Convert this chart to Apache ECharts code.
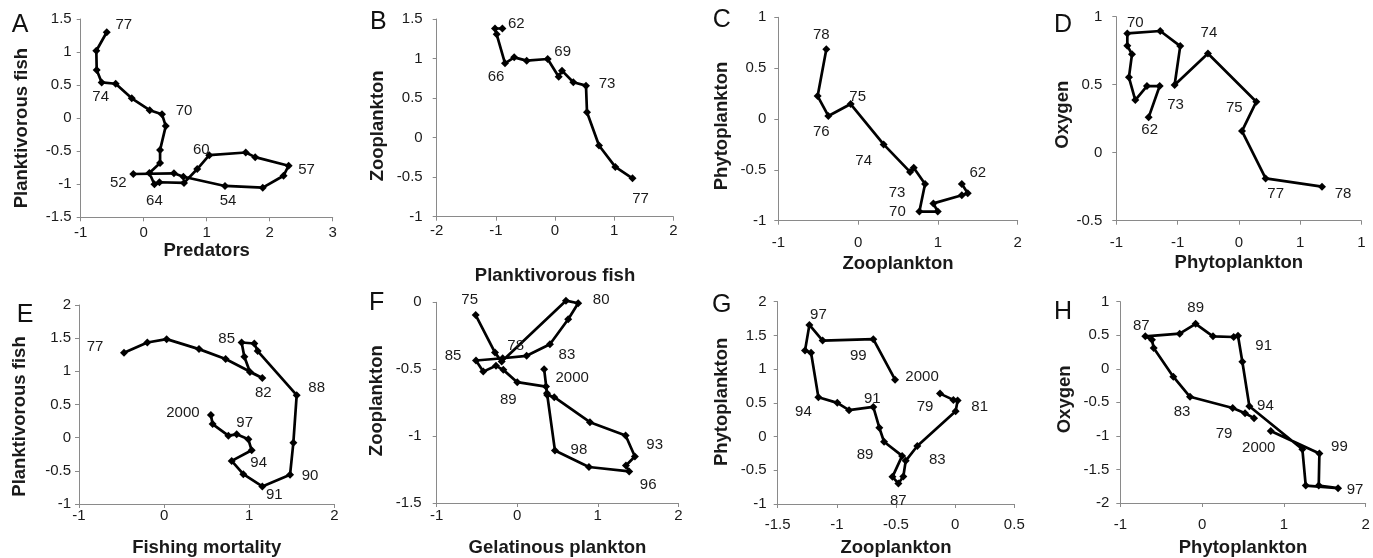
<!DOCTYPE html>
<html><head><meta charset="utf-8">
<script src="https://cdn.jsdelivr.net/npm/echarts@6/dist/echarts.min.js"></script>
<style>html,body{margin:0;padding:0;background:#fff}#c{width:1373px;height:558px}</style>
</head><body><div id="c"></div>
<script>
// ---------- DATA ----------
// Panel A: Predators (x) vs Planktivorous fish (y), 1952-1977
const xA = [-0.165,0.48,0.63,1.29,1.89,2.22,2.30,1.77,1.62,1.04,0.85,0.64,0.25,0.17,0.09,0.26,0.26,0.35,0.29,0.095,-0.19,-0.445,-0.667,-0.746,-0.752,-0.587];
const yA = [-0.845,-0.834,-0.886,-1.026,-1.052,-0.871,-0.72,-0.59,-0.52,-0.56,-0.77,-0.98,-0.97,-1.0,-0.83,-0.68,-0.48,-0.12,0.06,0.12,0.30,0.52,0.54,0.73,1.02,1.30];
const yrA = ['52','','','54','','','57','','','60','','','','64','','','','','70','','','','74','','','77'];
const xTicksA = [-1,0,1,2,3];
const yTicksA = [-1.5,-1,-0.5,0,0.5,1,1.5];

// Panel B: Planktivorous fish (x) vs Zooplankton (y)
const xB = [-0.89,-1.014,-0.986,-0.845,-0.69,-0.479,-0.124,0.062,0.118,0.31,0.524,0.541,0.744,1.02,1.31];
const yB = [1.38,1.38,1.306,0.94,1.015,0.973,0.994,0.77,0.847,0.70,0.657,0.32,-0.10,-0.37,-0.515];
const yrB = ['62','','','66','','','69','','','','73','','','','77'];
const xTicksB = [-2,-1,0,1,2];
const yTicksB = [-1,-0.5,0,0.5,1,1.5];

// Panel C: Zooplankton (x) vs Phytoplankton (y)
const xC = [1.30,1.374,1.30,0.943,0.998,0.768,0.839,0.697,0.651,0.32,-0.093,-0.373,-0.507,-0.398];
const yC = [-0.64,-0.73,-0.75,-0.83,-0.91,-0.91,-0.64,-0.48,-0.52,-0.25,0.147,0.03,0.226,0.685];
const yrC = ['62','','','','','70','','','73','74','75','76','','78'];
const xTicksC = [-1,0,1,2];
const yTicksC = [-1,-0.5,0,0.5,1];

// Panel D: Phytoplankton (x) vs Oxygen (y)
const xD = [-0.736,-0.646,-0.75,-0.845,-0.897,-0.872,-0.91,-0.91,-0.641,-0.478,-0.524,-0.252,0.143,0.026,0.219,0.679];
const yD = [0.26,0.49,0.49,0.387,0.554,0.723,0.787,0.877,0.895,0.784,0.498,0.73,0.375,0.159,-0.189,-0.25];
const yrD = ['62','','','','','','','70','','','73','74','75','','77','78'];
const xTicksD = [-1,-0.5,0,0.5,1];
const xTickTextD = ['-1','-1','0','1','1'];
const yTicksD = [-0.5,0,0.5,1];

// Panel E: Fishing mortality (x) vs Planktivorous fish (y), 1977-2000
const xE = [-0.471,-0.197,0.03,0.41,0.723,1.154,1.009,0.943,0.911,1.06,1.10,1.558,1.519,1.48,1.154,0.931,0.794,1.029,0.99,0.853,0.755,0.57,0.55];
const yE = [1.28,1.435,1.485,1.335,1.185,0.90,0.99,1.22,1.435,1.42,1.305,0.64,-0.075,-0.56,-0.735,-0.55,-0.35,-0.19,-0.025,0.05,0.03,0.205,0.34];
const yrE = ['77','','','','','82','','','85','','','88','','90','91','','','94','','97','','','2000'];
const xTicksE = [-1,0,1,2];
const yTicksE = [-1,-0.5,0,0.5,1,1.5,2];

// Panel F: Gelatinous plankton (x) vs Zooplankton (y)
const xF = [-0.516,-0.276,-0.193,0.605,0.757,0.633,0.406,0.117,-0.181,-0.512,-0.422,-0.264,-0.173,0.0,0.357,0.373,0.46,0.903,1.346,1.461,1.35,1.39,0.89,0.468,0.37,0.334];
const yF = [-0.095,-0.376,-0.443,0.012,-0.007,-0.127,-0.313,-0.40,-0.418,-0.435,-0.518,-0.475,-0.505,-0.597,-0.63,-0.692,-0.709,-0.896,-0.996,-1.152,-1.22,-1.264,-1.231,-1.107,-0.68,-0.50];
const yrF = ['75','','','','80','','83','','78','85','','','','89','','','','','93','','','96','','98','','2000'];
const xTicksF = [-1,0,1,2];
const yTicksF = [-1.5,-1,-0.5,0];

// Panel G: Zooplankton (x) vs Phytoplankton (y)
const xG = [-0.128,-0.015,0.021,0.004,-0.32,-0.418,-0.438,-0.48,-0.53,-0.448,-0.601,-0.641,-0.692,-0.897,-0.996,-1.156,-1.218,-1.269,-1.232,-1.12,-0.692,-0.508];
const yG = [0.637,0.544,0.534,0.377,-0.14,-0.36,-0.592,-0.695,-0.597,-0.287,-0.076,0.131,0.44,0.392,0.50,0.583,1.242,1.277,1.656,1.424,1.444,0.844];
const yrG = ['79','','81','','83','','','87','','','89','','91','','','94','','','97','','99','2000'];
const xTicksG = [-1.5,-1,-0.5,0,0.5];
const yTicksG = [-1,-0.5,0,0.5,1,1.5,2];

// Panel H: Phytoplankton (x) vs Oxygen (y)
const xH = [0.635,0.525,0.374,-0.148,-0.352,-0.592,-0.613,-0.694,-0.274,-0.079,0.133,0.386,0.439,0.492,0.578,1.226,1.267,1.662,1.426,1.434,0.839];
const yH = [-0.736,-0.663,-0.584,-0.417,-0.117,0.311,0.434,0.484,0.523,0.67,0.484,0.474,0.493,0.105,-0.559,-1.199,-1.74,-1.779,-1.74,-1.263,-0.928];
const yrH = ['79','','','83','','','','87','','89','','91','','','94','','','97','','99','2000'];
const xTicksH = [-1,0,1,2];
const yTicksH = [-2,-1.5,-1,-0.5,0,0.5,1];

const PANELS = [
  {id:'A', x:xA, y:yA, yr:yrA, xt:xTicksA, yt:yTicksA, xName:'Predators', yName:'Planktivorous fish'},
  {id:'B', x:xB, y:yB, yr:yrB, xt:xTicksB, yt:yTicksB, xName:'Planktivorous fish', yName:'Zooplankton'},
  {id:'C', x:xC, y:yC, yr:yrC, xt:xTicksC, yt:yTicksC, xName:'Zooplankton', yName:'Phytoplankton'},
  {id:'D', x:xD, y:yD, yr:yrD, xt:xTicksD, yt:yTicksD, xName:'Phytoplankton', yName:'Oxygen', xText:xTickTextD},
  {id:'E', x:xE, y:yE, yr:yrE, xt:xTicksE, yt:yTicksE, xName:'Fishing mortality', yName:'Planktivorous fish'},
  {id:'F', x:xF, y:yF, yr:yrF, xt:xTicksF, yt:yTicksF, xName:'Gelatinous plankton', yName:'Zooplankton'},
  {id:'G', x:xG, y:yG, yr:yrG, xt:xTicksG, yt:yTicksG, xName:'Zooplankton', yName:'Phytoplankton'},
  {id:'H', x:xH, y:yH, yr:yrH, xt:xTicksH, yt:yTicksH, xName:'Phytoplankton', yName:'Oxygen'}
];

// ---------- LAYOUT (pixels) ----------
// g: grid box, xm/ym: tick-label margins, xg/yg: axis-title gaps, ys: y-title downward shift, L: panel letter centre
const LAYOUT = {
  A:{g:[80.7,19,252,198.3], xm:8, ym:9, xg:22, yg:49, ys:10, L:[20,25],
     off:{'52':[-15,9],'54':[3,15],'57':[18,4],'60':[-8,-5],'64':[0,17],'70':[22,-3],'74':[-1,14],'77':[17,-7]}},
  B:{g:[436.7,19,236.6,197.7], xm:7, ym:14, xg:50, yg:49, ys:8, L:[378.3,21.7],
     off:{'62':[14,-5],'66':[-9,14],'69':[15,-7],'73':[21,-2],'77':[8,21]}},
  C:{g:[778.3,17.3,239.4,203.4], xm:15, ym:12, xg:34, yg:47, ys:7, L:[721.7,20],
     off:{'62':[16,-11],'70':[-22,0],'73':[-13,21],'74':[-20,16],'75':[7,-7],'76':[-7,16],'78':[-5,-14]}},
  D:{g:[1116.3,16.7,245,204], xm:15, ym:14, xg:33, yg:42, ys:-4, L:[1063,25],
     off:{'62':[1,13],'70':[8,-11],'73':[1,20],'74':[1,-21],'75':[-22,6],'77':[10,15],'78':[21,7]}},
  E:{g:[79,305,255.3,200], xm:4, ym:8, xg:34, yg:50, ys:12, L:[25,315],
     off:{'77':[-29,-6],'82':[1,15],'85':[-15,-4],'88':[20,-7],'90':[20,1],'91':[12,8],'94':[7,13],'97':[8,-11],'2000':[-28,-2]}},
  F:{g:[436.7,302.3,241.6,201], xm:5, ym:15, xg:35, yg:50.5, ys:-2, L:[376.7,303.3],
     off:{'75':[-6,-15],'80':[23,-3],'83':[17,11],'78':[13,-12],'85':[-23,-5],'89':[-9,18],'93':[29,9],'96':[19,13],'98':[24,-1],'2000':[28,9]}},
  G:{g:[777.7,301.7,236.6,203.3], xm:13, ym:11, xg:34, yg:46.5, ys:-1, L:[721.7,305],
     off:{'79':[-15,13],'81':[22,6],'83':[20,14],'87':[0,17],'89':[-19,13],'91':[-1,-8],'94':[-15,15],'97':[9,-10],'99':[-15,17],'2000':[27,-3]}},
  H:{g:[1120.3,301.7,245.4,203.3], xm:14, ym:11, xg:35, yg:46, ys:-3, L:[1063,311.7],
     off:{'79':[-30,16],'83':[-8,15],'87':[-4,-10],'89':[0,-16],'91':[30,9],'94':[16,0],'97':[17,2],'99':[20,-7],'2000':[-12,17]}}
};

const FONT = '"Liberation Sans", Arial, Helvetica, sans-serif';
const AXIS_COLOR = '#8a8a8a';
const TEXT_COLOR = '#1a1a1a';
const SYM = 8;

const grid = [], xAxis = [], yAxis = [], series = [], graphic = [];
PANELS.forEach((p, i) => {
  const L = LAYOUT[p.id];
  grid.push({left:L.g[0], top:L.g[1], width:L.g[2], height:L.g[3], containLabel:false});
  const common = {
    gridIndex:i, type:'value',
    axisLine:{show:true, onZero:false, lineStyle:{color:AXIS_COLOR, width:1}},
    axisTick:{show:true, inside:false, length:4, lineStyle:{color:AXIS_COLOR, width:1}},
    splitLine:{show:false},
    nameLocation:'middle'
  };
  const nameStyle = {fontFamily:FONT, fontWeight:'bold', fontSize:18.5, color:TEXT_COLOR};
  const xl = {margin:L.xm, fontSize:15, color:TEXT_COLOR, fontFamily:FONT};
  if (p.xText) {
    xl.formatter = v => { const k = p.xt.findIndex(t => Math.abs(t - v) < 1e-9); return k >= 0 ? p.xText[k] : ''; };
  }
  xAxis.push(Object.assign({}, common, {
    min:p.xt[0], max:p.xt[p.xt.length-1], interval:p.xt[1]-p.xt[0],
    name:p.xName, nameGap:L.xg, axisLabel:xl, nameTextStyle:nameStyle
  }));
  const s = L.ys || 0;
  yAxis.push(Object.assign({}, common, {
    min:p.yt[0], max:p.yt[p.yt.length-1], interval:p.yt[1]-p.yt[0],
    name:p.yName, nameGap:L.yg,
    nameTextStyle:Object.assign({}, nameStyle, {padding: s >= 0 ? [0, 2*s, 0, 0] : [0, 0, 0, -2*s]}),
    axisLabel:{margin:L.ym, fontSize:15, color:TEXT_COLOR, fontFamily:FONT}
  }));
  series.push({
    type:'line', xAxisIndex:i, yAxisIndex:i,
    symbol:'diamond', symbolSize:SYM, showSymbol:true, showAllSymbol:true,
    lineStyle:{color:'#000', width:2.7},
    itemStyle:{color:'#000'},
    label:{show:false, fontFamily:FONT, fontSize:15, color:TEXT_COLOR},
    animation:false, clip:false,
    data:p.x.map((xv, j) => {
      const item = {value:[xv, p.y[j]]};
      const yr = p.yr[j];
      if (yr) {
        const o = L.off[yr] || [0,-14];
        item.label = {show:true, formatter:yr, position:[SYM/2 + o[0], SYM/2 + o[1]],
                      align:'center', verticalAlign:'middle',
                      fontFamily:FONT, fontSize:15, color:TEXT_COLOR};
      }
      return item;
    })
  });
  graphic.push({type:'text', x:L.L[0], y:L.L[1],
    style:{text:p.id, fontSize:25, fontFamily:FONT, fill:'#111', align:'center', verticalAlign:'middle'}});
});

const chart = echarts.init(document.getElementById('c'), null, {renderer:'canvas'});
chart.setOption({animation:false, backgroundColor:'#fff', grid, xAxis, yAxis, series, graphic});
</script>
</body></html>
